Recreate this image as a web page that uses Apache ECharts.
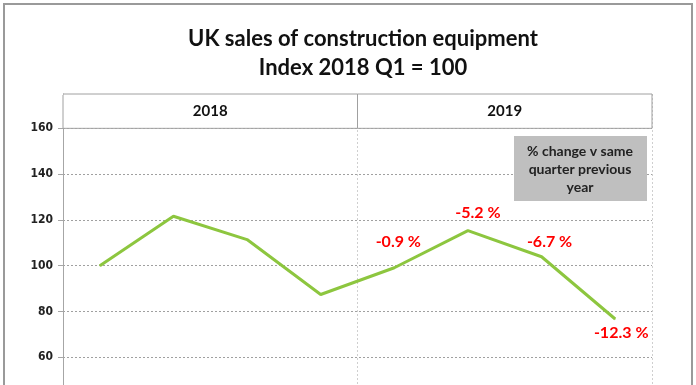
<!DOCTYPE html>
<html>
<head>
<meta charset="utf-8">
<script src="https://cdn.jsdelivr.net/npm/echarts@6/dist/echarts.min.js"></script>
<style>
html,body{margin:0;padding:0;background:#fff;overflow:hidden;width:696px;height:385px;}
#c{width:696px;height:440px;}
</style>
</head>
<body>
<div id="c"></div>
<script>
// ---- data ----
const quarters = ['Q1 2018','Q2 2018','Q3 2018','Q4 2018','Q1 2019','Q2 2019','Q3 2019','Q4 2019'];
const indexValues = [100, 121.6, 111.4, 87.4, 99.1, 115.3, 103.9, 76.7];
const changeLabels = [null, null, null, null, '-0.9 %', '-5.2 %', '-6.7 %', '-12.3 %'];
const years = ['2018', '2019'];
const yTicks = [40, 60, 80, 100, 120, 140, 160];

// ---- layout (not data) ----
const labelPlacement = [null, null, null, null,
  {position:'top', offset:[4,-12]},
  {position:'top', offset:[10,-4]},
  {position:'top', offset:[8,-1]},
  {position:'bottom', offset:[6,0]}];

const chart = echarts.init(document.getElementById('c'));
const seriesData = indexValues.map((v, i) => {
  if (!changeLabels[i]) return v;
  return {
    value: v,
    label: {
      show: true,
      formatter: changeLabels[i],
      position: labelPlacement[i].position,
      offset: labelPlacement[i].offset
    }
  };
});

chart.setOption({
  backgroundColor: '#fff',
  animation: false,
  title: {
    text: 'UK sales of construction equipment\nIndex 2018 Q1 = 100',
    left: 358, top: 19, textAlign: 'center',
    textStyle: {fontFamily: 'Lato', fontWeight: 'bold', fontSize: 22, color: '#111', lineHeight: 29}
  },
  grid: {left: 63, right: 44, top: 94, bottom: 37},
  xAxis: [
    {type: 'category', data: quarters, boundaryGap: true,
     axisLine: {show: false}, axisTick: {show: false}, axisLabel: {show: false}, splitLine: {show: false}},
    {type: 'value', min: 0, max: years.length * 4, interval: 4, position: 'top',
     axisLine: {show: false}, axisTick: {show: false}, axisLabel: {show: false},
     splitLine: {show: true, lineStyle: {color: '#cfcfcf', type: [2, 2], width: 1}}}
  ],
  yAxis: {
    type: 'value', min: yTicks[0], max: 175, interval: 20,
    axisLine: {show: true, lineStyle: {color: '#a6a6a6', width: 1}},
    axisTick: {show: true, length: 5, lineStyle: {color: '#a6a6a6'}},
    axisLabel: {
      formatter: v => (yTicks.indexOf(v) >= 0 ? String(v) : ''),
      fontFamily: '"Liberation Sans Narrow", "Arial Narrow", "DejaVu Sans Condensed", sans-serif',
      fontWeight: 'bold', fontSize: 12, color: '#222', margin: 10
    },
    splitLine: {show: true, lineStyle: {color: '#a0a0a0', type: [2, 2], width: 1}}
  },
  graphic: [
    {type: 'rect', shape: {x: 4, y: 4, width: 688, height: 500},
     style: {fill: 'none', stroke: '#9a9a9a', lineWidth: 2}, z: 100},
    {type: 'rect', shape: {x: 54, y: 91, width: 9, height: 4},
     style: {fill: '#fff', stroke: 'none'}, z: 100},
    {type: 'rect', shape: {x: 514, y: 136, width: 133, height: 65},
     style: {fill: '#bfbfbf', stroke: 'none'}, z: 50},
    {type: 'text', x: 580, y: 169,
     style: {text: '% change v same\nquarter previous\nyear', align: 'center', verticalAlign: 'middle',
             fontFamily: 'Lato', fontWeight: 'bold', fontSize: 14, lineHeight: 18, fill: '#222'}, z: 51}
  ],
  series: [
    {
      type: 'line', xAxisIndex: 1, data: [[0, 175]], symbol: 'none', lineStyle: {width: 0}, silent: true,
      markArea: {
        silent: true,
        itemStyle: {color: '#fff', borderColor: '#a0a0a0', borderWidth: 1},
        label: {show: true, position: 'inside', fontFamily: 'Lato', fontWeight: 'bold', fontSize: 15, color: '#111'},
        data: years.map((y, i) => [{xAxis: i * 4, yAxis: 160, name: y}, {xAxis: (i + 1) * 4, yAxis: 175}])
      }
    },
    {
      type: 'line', xAxisIndex: 0, data: seriesData,
      symbol: 'circle', symbolSize: 1, showSymbol: true,
      itemStyle: {color: '#8dc63f'},
      lineStyle: {color: '#8dc63f', width: 3},
      label: {show: false, fontFamily: 'Lato', fontWeight: 'bold', fontSize: 16, color: '#ff0000'},
      z: 5
    }
  ]
});
</script>
</body>
</html>
